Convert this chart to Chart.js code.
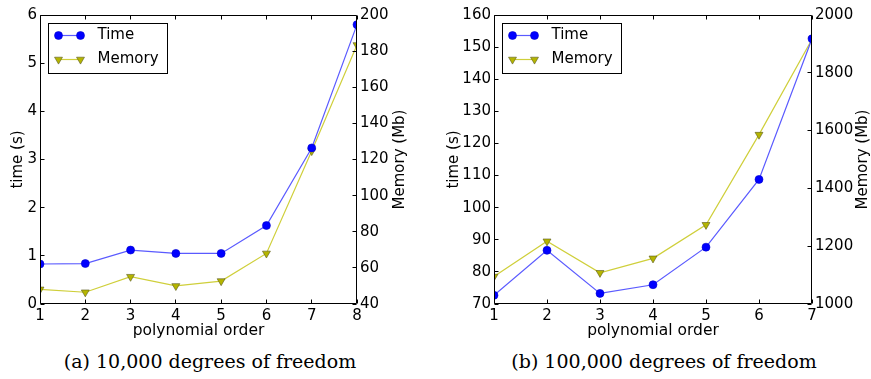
<!DOCTYPE html>
<html>
<head>
<meta charset="utf-8">
<script src="https://cdn.jsdelivr.net/npm/chart.js@4.4.1/dist/chart.umd.min.js"></script>
<style>
  body { margin: 0; background: #fff; }
  #page { position: relative; width: 871px; height: 379px; overflow: hidden; }
  #page canvas { position: absolute; top: 0; }
  .caption {
    position: absolute; width: 400px; text-align: center;
    font-family: 'DejaVu Serif', serif; font-size: 19px; line-height: 22px; color: #000;
  }
</style>
</head>
<body>
<div id="page">
  <canvas id="chartA" width="440" height="345" style="left:0"></canvas>
  <canvas id="chartB" width="431" height="345" style="left:440px"></canvas>
  <div class="caption" style="left:10px; top:350px">(a) 10,000 degrees of freedom</div>
  <div class="caption" style="left:464px; top:350px">(b) 100,000 degrees of freedom</div>
</div>
<script>
// ======= DATA =======
// (a) 10,000 degrees of freedom
const ordersA = ['1', '2', '3', '4', '5', '6', '7', '8'];
const timeA = [0.83, 0.84, 1.12, 1.05, 1.05, 1.63, 3.24, 5.80];
const memoryA = [48.1, 46.5, 55.1, 50.0, 52.7, 68.0, 124.7, 183.4];
const timeTicksA = [0, 1, 2, 3, 4, 5, 6];
const memoryTicksA = [40, 60, 80, 100, 120, 140, 160, 180, 200];

// (b) 100,000 degrees of freedom
const ordersB = ['1', '2', '3', '4', '5', '6', '7'];
const timeB = [72.7, 86.7, 73.3, 76.0, 87.7, 108.8, 152.6];
const memoryB = [1095, 1217, 1108, 1158, 1274, 1586, 1916];
const timeTicksB = [70, 80, 90, 100, 110, 120, 130, 140, 150, 160];
const memoryTicksB = [1000, 1200, 1400, 1600, 1800, 2000];

Chart.defaults.font.family = "'DejaVu Sans', sans-serif";
Chart.defaults.font.size = 15;
Chart.defaults.color = '#000';

const crisp = v => Math.floor(v) + 0.5;

// ======= PLUGINS =======
// box frame + inward ticks, matplotlib style
const frameTicks = {
  id: 'frameTicks',
  afterDatasetsDraw(chart) {
    const { ctx, chartArea: a, scales } = chart;
    const L = crisp(a.left), R = crisp(a.right - 1), T = crisp(a.top), B = crisp(a.bottom - 1);
    const len = 4;
    ctx.save();
    ctx.strokeStyle = '#000';
    ctx.lineWidth = 1;
    ctx.beginPath();
    ctx.rect(L, T, R - L, B - T);
    scales.x.ticks.forEach((t, i) => {
      const x = crisp(scales.x.getPixelForTick(i));
      ctx.moveTo(x, B); ctx.lineTo(x, B - len);
      ctx.moveTo(x, T); ctx.lineTo(x, T + len);
    });
    scales.y.ticks.forEach((t, i) => {
      const y = crisp(scales.y.getPixelForTick(i));
      ctx.moveTo(L, y); ctx.lineTo(L + len, y);
    });
    scales.y1.ticks.forEach((t, i) => {
      const y = crisp(scales.y1.getPixelForTick(i));
      ctx.moveTo(R, y); ctx.lineTo(R - len, y);
    });
    ctx.stroke();
    ctx.restore();
  }
};

// right axis title, reading bottom-to-top
const rightTitle = {
  id: 'rightTitle',
  afterDraw(chart, args, opts) {
    const { ctx, chartArea: a } = chart;
    ctx.save();
    ctx.translate(a.right + opts.offset, (a.top + a.bottom) / 2);
    ctx.rotate(-Math.PI / 2);
    ctx.font = "15px 'DejaVu Sans', sans-serif";
    ctx.fillStyle = '#000';
    ctx.textAlign = 'center';
    ctx.textBaseline = 'middle';
    ctx.fillText(opts.text, 0, 0);
    ctx.restore();
  }
};

// framed legend with a marker at each end of the line sample
const boxLegend = {
  id: 'boxLegend',
  afterDraw(chart) {
    const { ctx, chartArea: a } = chart;
    const x0 = crisp(a.left + 8), y0 = crisp(a.top + 8);
    const w = 119, h = 50;
    ctx.save();
    ctx.fillStyle = '#fff';
    ctx.fillRect(x0, y0, w, h);
    ctx.strokeStyle = '#000';
    ctx.lineWidth = 1;
    ctx.strokeRect(x0, y0, w, h);
    ctx.font = "15px 'DejaVu Sans', sans-serif";
    ctx.textBaseline = 'middle';
    chart.data.datasets.forEach((ds, i) => {
      const y = y0 + 12 + i * 24;
      const x1 = x0 + 10, x2 = x0 + 32;
      ctx.strokeStyle = ds.borderColor;
      ctx.lineWidth = ds.borderWidth;
      ctx.beginPath();
      ctx.moveTo(x1, y); ctx.lineTo(x2, y);
      ctx.stroke();
      ctx.fillStyle = ds.pointBackgroundColor;
      ctx.strokeStyle = ds.pointBorderColor;
      ctx.lineWidth = ds.pointBorderWidth;
      [x1, x2].forEach(px => {
        Chart.helpers.drawPoint(ctx, {
          pointStyle: ds.pointStyle,
          radius: ds.pointRadius,
          rotation: ds.pointRotation || 0,
          borderWidth: ds.pointBorderWidth
        }, px, y);
      });
      ctx.fillStyle = '#000';
      ctx.fillText(ds.label, x0 + 49, y);
    });
    ctx.restore();
  }
};

// ======= CHART BUILDER =======
function makeChart(id, orders, time, memory, timeTicks, memTicks, layout) {
  const ctx = document.getElementById(id).getContext('2d');
  return new Chart(ctx, {
    type: 'line',
    data: {
      labels: orders,
      datasets: [
        {
          label: 'Time',
          data: time,
          yAxisID: 'y',
          borderColor: '#5a5aff',
          borderWidth: 1.2,
          pointStyle: 'circle',
          pointRadius: 4,
          pointBackgroundColor: '#0000ff',
          pointBorderColor: '#0000cc',
          pointBorderWidth: 0.6,
          tension: 0,
          clip: 0
        },
        {
          label: 'Memory',
          data: memory,
          yAxisID: 'y1',
          borderColor: '#cfcf3a',
          borderWidth: 1.2,
          pointStyle: 'triangle',
          pointRotation: 180,
          pointRadius: 4.6,
          pointBackgroundColor: '#b5b500',
          pointBorderColor: '#5a5a20',
          pointBorderWidth: 0.6,
          tension: 0,
          clip: 0
        }
      ]
    },
    options: {
      responsive: false,
      animation: false,
      events: [],
      layout: { padding: { top: 15, left: 0, right: 0, bottom: 0 } },
      scales: {
        x: {
          type: 'category',
          offset: false,
          grid: { display: false, drawTicks: false },
          border: { display: false },
          ticks: { padding: 3, autoSkip: false, maxRotation: 0 },
          title: { display: true, text: 'polynomial order', font: { size: 15.5 }, padding: { top: 0, bottom: 5 } },
          afterFit(s) { s.height = 41; }
        },
        y: {
          position: 'left',
          min: timeTicks[0],
          max: timeTicks[timeTicks.length - 1],
          grid: { display: false, drawTicks: false },
          border: { display: false },
          ticks: { stepSize: timeTicks[1] - timeTicks[0], padding: 3, callback: v => String(v) },
          title: { display: true, text: 'time (s)', padding: { top: layout.leftTitlePad, bottom: 0 } },
          afterFit(s) { s.width = layout.leftWidth; }
        },
        y1: {
          position: 'right',
          min: memTicks[0],
          max: memTicks[memTicks.length - 1],
          grid: { display: false, drawTicks: false },
          border: { display: false },
          ticks: { stepSize: memTicks[1] - memTicks[0], padding: 3, callback: v => String(v) },
          afterFit(s) { s.width = layout.rightWidth; }
        }
      },
      plugins: {
        legend: { display: false },
        tooltip: { enabled: false },
        rightTitle: { text: 'Memory (Mb)', offset: layout.rightTitleOffset }
      }
    },
    plugins: [frameTicks, boxLegend, rightTitle]
  });
}

makeChart('chartA', ordersA, timeA, memoryA, timeTicksA, memoryTicksA,
  { leftWidth: 40, rightWidth: 83, leftTitlePad: 9, rightTitleOffset: 43 });
makeChart('chartB', ordersB, timeB, memoryB, timeTicksB, memoryTicksB,
  { leftWidth: 54, rightWidth: 59, leftTitlePad: 5, rightTitleOffset: 51 });
</script>
</body>
</html>
